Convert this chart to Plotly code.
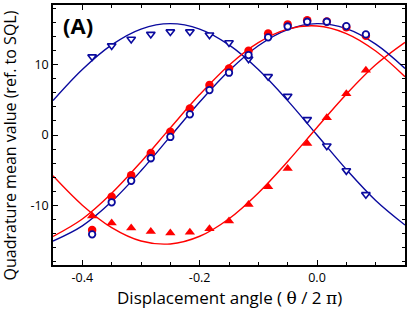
import plotly.graph_objects as go

# measurement positions (theta / 2pi)
x_pts = [-0.3833, -0.35, -0.3167, -0.2833, -0.25, -0.2167, -0.1833, -0.15,
         -0.1167, -0.0833, -0.05, -0.0167, 0.0167, 0.05, 0.0833]
red_circle = [-13.5, -8.75, -5.7, -2.55, 0.45, 3.75, 7.1, 9.45, 11.95, 14.4,
              15.7, 16.3, 16.1, 15.3, 14.1]
blue_circle = [-14.1, -9.55, -6.5, -3.3, -0.28, 2.93, 6.38, 8.84, 11.35, 13.86,
               15.4, 16.07, 16.07, 15.46, 14.28]
red_triangle = [-11.5, -12.5, -13.2, -13.7, -13.9, -13.8, -13.3, -12.2, -9.85,
                -7.35, -4.75, -1.2, 2.45, 5.85, 9.2]
blue_triangle = [11.1, 12.67, 13.6, 14.3, 14.65, 14.65, 14.2, 13.1, 10.8, 8.3,
                 5.5, 2.2, -1.55, -5.05, -8.45]

# fitted curves
x_fit = [-0.45, -0.40, -0.35, -0.30, -0.25, -0.20, -0.15, -0.10, -0.05, 0.00,
         0.05, 0.10, 0.15]
red_circle_fit = [-14.40, -11.92, -8.27, -3.82, 1.01, 5.74, 9.91, 13.11, 15.02,
                  15.47, 14.40, 11.92, 8.27]
blue_circle_fit = [-15.06, -12.90, -9.45, -5.08, -0.20, 4.69, 9.12, 12.67, 14.96,
                   15.80, 15.09, 12.90, 9.45]
blue_triangle_fit = [4.88, 9.29, 12.78, 15.03, 15.80, 15.03, 12.78, 9.29, 4.88,
                     0.0, -4.88, -9.29, -12.78]
red_triangle_fit = [-5.79, -9.96, -13.14, -15.04, -15.46, -14.37, -11.88, -8.22,
                    -3.76, 1.07, 5.79, 9.96, 13.14]

x_tickvals = [-0.4, -0.2, 0.0]
x_ticktext = ["-0.4", "-0.2", "0.0"]
y_tickvals = [-10, 0, 10]
y_ticktext = ["-10", "0", "10"]

x_title = 'Displacement angle ( <span style="font-family:DejaVu Serif">θ</span> / 2 <span style="font-family:DejaVu Serif">π</span>)'
y_title = "Quadrature mean value (ref. to SQL)"

RED = "#ff0000"
BLUE = "#0a0a9e"
FONT = "Open Sans"

fig = go.Figure()

for y, c in [(blue_triangle_fit, BLUE), (red_triangle_fit, RED),
             (blue_circle_fit, BLUE), (red_circle_fit, RED)]:
    fig.add_trace(go.Scatter(x=x_fit, y=y, mode="lines",
                             line=dict(color=c, width=1.4, shape="spline"),
                             hoverinfo="skip"))

fig.add_trace(go.Scatter(x=x_pts, y=red_triangle, mode="markers",
                         marker=dict(symbol="triangle-up", size=9, color=RED,
                                     line=dict(width=0))))
fig.add_trace(go.Scatter(x=x_pts, y=blue_triangle, mode="markers",
                         marker=dict(symbol="triangle-down", size=7.5, color="white",
                                     line=dict(width=1.6, color=BLUE))))
fig.add_trace(go.Scatter(x=x_pts, y=red_circle, mode="markers",
                         marker=dict(symbol="circle", size=8.5, color=RED,
                                     line=dict(width=0))))
fig.add_trace(go.Scatter(x=x_pts, y=blue_circle, mode="markers",
                         marker=dict(symbol="circle", size=6.5, color="white",
                                     line=dict(width=1.8, color=BLUE))))

fig.update_layout(
    width=407, height=311,
    margin=dict(l=53, r=2, t=5, b=46, autoexpand=False),
    paper_bgcolor="white", plot_bgcolor="white",
    showlegend=False,
    font=dict(family=FONT, color="black", size=12),
)
fig.update_xaxes(
    range=[-0.45, 0.15], tickvals=x_tickvals, ticktext=x_ticktext,
    ticks="inside", ticklen=5, tickwidth=1.2, tickcolor="black",
    minor=dict(dtick=0.05, tick0=0, ticks="inside", ticklen=3, tickwidth=1, tickcolor="black"),
    showline=True, linewidth=1.5, linecolor="black", mirror="ticks",
    showgrid=False, zeroline=False, automargin=False,
    tickfont=dict(size=12.5),
)
fig.update_yaxes(
    range=[-18.45, 18.45], tickvals=y_tickvals, ticktext=y_ticktext,
    ticks="inside", ticklen=5, tickwidth=1.2, tickcolor="black",
    minor=dict(dtick=2, tick0=0, ticks="inside", ticklen=3, tickwidth=1, tickcolor="black"),
    showline=True, linewidth=1.5, linecolor="black", mirror="ticks",
    showgrid=False, zeroline=False, automargin=False,
    tickfont=dict(size=12.5),
)
# axis titles placed as annotations
fig.add_annotation(text=x_title, xref="paper", yref="paper",
                   x=0.5, y=-0.125, xanchor="center", yanchor="middle",
                   showarrow=False, font=dict(size=17, family=FONT, color="black"))
fig.add_annotation(text=y_title, xref="paper", yref="paper", textangle=-90,
                   x=-0.122, y=0.46, xanchor="center", yanchor="middle",
                   showarrow=False, font=dict(size=16, family=FONT, color="black"))
fig.add_annotation(text="<b>(A)</b>", xref="paper", yref="paper", x=0.022, y=0.99,
                   xanchor="left", yanchor="top", showarrow=False,
                   font=dict(size=22, family=FONT, color="black"))

fig.write_html("out.html", config={"displayModeBar": False},
               post_script="document.body.style.margin='0px';")
